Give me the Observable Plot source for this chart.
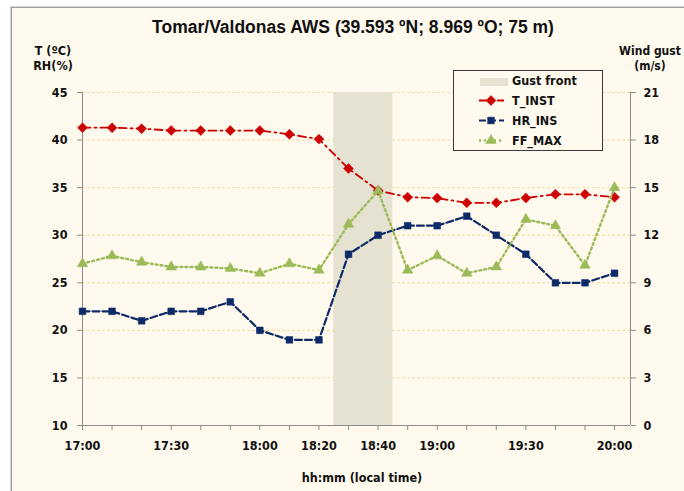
<!DOCTYPE html>
<html><head><meta charset="utf-8">
<script src="https://cdn.jsdelivr.net/npm/d3@7"></script>
<script src="https://cdn.jsdelivr.net/npm/@observablehq/plot@0.6"></script>
<style>
html,body{margin:0;padding:0;background:#fff;}
#wrap{position:relative;width:684px;height:491px;overflow:hidden;background:#fff;}
#panel{position:absolute;left:11px;top:7px;width:700px;height:500px;background:#fffaed;border-left:1px solid #9c9c9c;border-top:1px solid #9c9c9c;box-shadow:-1px -1px 1px #d8d8d8;}
.t{position:absolute;color:#111;font-family:"DejaVu Sans Condensed","DejaVu Sans",sans-serif;font-weight:bold;font-size:12.5px;white-space:nowrap;text-align:center;line-height:15px;}
#title{position:absolute;left:353px;top:17px;transform:translateX(-50%);font:bold 17.5px "Liberation Sans",Arial,sans-serif;color:#111;white-space:nowrap;}
#plot{position:absolute;left:0;top:0;}
#legend{position:absolute;left:0;top:0;}
</style></head>
<body><div id="wrap"><div id="panel"></div><div id="plot"></div><div id="legend"></div>
<div id="title"></div>
<div class="t" id="ylab" style="left:53px;top:43px;transform:translateX(-50%);"></div>
<div class="t" id="y2lab" style="left:650px;top:44px;transform:translateX(-50%);font-size:12px;"></div>
<div class="t" id="xlab" style="left:362px;top:470px;transform:translateX(-50%);"></div>
</div>
<script>
const titleText = "Tomar/Valdonas AWS (39.593 ºN; 8.969 ºO; 75 m)";
const yLabel = ["T (ºC)", "RH(%)"];
const y2Label = ["Wind gust", "(m/s)"];
const xLabel = "hh:mm (local time)";

const times = ["17:00","17:10","17:20","17:30","17:40","17:50","18:00","18:10","18:20","18:30","18:40","18:50","19:00","19:10","19:20","19:30","19:40","19:50","20:00"];
const tInst = [41.3,41.3,41.2,41.0,41.0,41.0,41.0,40.6,40.1,37.0,34.7,34.0,33.9,33.4,33.4,33.9,34.3,34.3,34.0];
const hrIns = [22,22,21,22,22,23,20,19,19,28,30,31,31,32,30,28,25,25,26];
const ffMax = [10.2,10.7,10.3,10.0,10.0,9.9,9.6,10.2,9.8,12.7,14.8,9.8,10.7,9.6,10.0,13.0,12.6,10.1,15.0];

const xTickLabels = ["17:00","17:30","18:00","18:20","18:40","19:00","19:30","20:00"];
const leftTicks = [10,15,20,25,30,35,40,45];
const rightTicks = [0,3,6,9,12,15,18,21];
const gustFront = {name: "Gust front", start: "18:25", end: "18:45"};

const series = [
  {name: "T_INST", values: tInst, axis: "left", color: "#cc0000", dash: "8,4,2,4", symbol: "diamond2", r: 4.5, width: 1.8},
  {name: "HR_INS", values: hrIns, axis: "left", color: "#0d2a68", dash: "7,3", symbol: "square", r: 3.8, width: 2.2},
  {name: "FF_MAX", values: ffMax, axis: "right", color: "#9bbb59", dash: "2,3", symbol: "triangle", r: 3.9, width: 2.4}
];

const toMin = s => { const [h, m] = s.split(":").map(Number); return (h - 17) * 60 + m; };
const fmtMin = v => { const h = 17 + Math.floor(v / 60), m = v % 60; return h + ":" + String(m).padStart(2, "0"); };
const toLeft = v => 10 + v * 35 / 21;
const fromLeft = d => Math.round((d - 10) * 21 / 35);

const xMax = 185.4;
const tickMins = d3.range(0, 181, 10);
const labelSet = new Set(xTickLabels.map(toMin));

const marks = [
  Plot.ruleY(leftTicks.filter(t => t > 10), {stroke: "#f6d9a3", strokeDasharray: "3,2", strokeWidth: 1}),
  Plot.rect([gustFront], {x1: d => toMin(d.start), x2: d => toMin(d.end), y1: 10, y2: 45, fill: "#e5e2d2"}),
  Plot.ruleX([0, xMax], {stroke: "#8c8c8c", strokeWidth: 1}),
  Plot.ruleY([10], {stroke: "#8c8c8c", strokeWidth: 1}),
  Plot.axisY({anchor: "left", ticks: leftTicks, tickSize: 5, tickPadding: 10, label: null, stroke: "#8c8c8c", fill: "#111"}),
  Plot.axisY({anchor: "right", ticks: rightTicks.map(toLeft), tickFormat: fromLeft, tickSize: 5, tickPadding: 8, label: null, stroke: "#8c8c8c", fill: "#111"}),
  Plot.axisX({anchor: "bottom", ticks: tickMins, tickFormat: d => labelSet.has(d) ? fmtMin(d) : "", tickSize: 5, tickPadding: 11, label: null, stroke: "#8c8c8c", fill: "#111"})
];

for (const s of series) {
  const data = times.map((t, i) => ({x: toMin(t), y: s.axis === "left" ? s.values[i] : toLeft(s.values[i])}));
  marks.push(Plot.line(data, {x: "x", y: "y", stroke: s.color, strokeWidth: s.width, strokeDasharray: s.dash, curve: "linear"}));
  marks.push(Plot.dot(data, {x: "x", y: "y", symbol: s.symbol, r: s.r, fill: s.color, stroke: s.color, strokeWidth: 0.5}));
}

const chart = Plot.plot({
  width: 684, height: 491,
  marginLeft: 82, marginRight: 54, marginTop: 92, marginBottom: 66,
  x: {domain: [0, xMax]},
  y: {domain: [10, 45]},
  style: {background: "transparent", fontFamily: "'DejaVu Sans Condensed','DejaVu Sans',sans-serif", fontWeight: "bold", fontSize: "12.5px", overflow: "visible", color: "#111"},
  marks
});
document.getElementById("plot").appendChild(chart);

document.getElementById("title").textContent = titleText;
document.getElementById("ylab").innerHTML = yLabel.join("<br>");
document.getElementById("y2lab").innerHTML = y2Label.join("<br>");
document.getElementById("xlab").textContent = xLabel;

// legend
const lg = d3.select("#legend").append("svg").attr("width", 684).attr("height", 491)
  .style("font-family", "'DejaVu Sans Condensed','DejaVu Sans',sans-serif").style("font-weight", "bold").style("font-size", "12.5px");
lg.append("rect").attr("x", 453.5).attr("y", 70.5).attr("width", 149).attr("height", 80).attr("fill", "#fffaed").attr("stroke", "#3a3a3a");
lg.append("rect").attr("x", 480).attr("y", 78).attr("width", 28).attr("height", 8).attr("fill", "#e5e2d2");
lg.append("text").attr("x", 512).attr("y", 81).attr("dy", "0.35em").attr("fill", "#111").text(gustFront.name);
const symMap = {diamond2: d3.symbolDiamond2, square: d3.symbolSquare, triangle: d3.symbolTriangle};
series.forEach((s, i) => {
  const cy = 100.5 + i * 20;
  lg.append("line").attr("x1", 479).attr("x2", 504).attr("y1", cy).attr("y2", cy).attr("stroke", s.color).attr("stroke-width", s.width).attr("stroke-dasharray", s.dash);
  lg.append("path").attr("transform", `translate(491,${cy})`).attr("d", d3.symbol(symMap[s.symbol], Math.PI * s.r * s.r)()).attr("fill", s.color).attr("stroke", s.color).attr("stroke-width", 0.5);
  lg.append("text").attr("x", 512).attr("y", cy).attr("dy", "0.35em").attr("fill", "#111").text(s.name);
});
</script></body></html>
